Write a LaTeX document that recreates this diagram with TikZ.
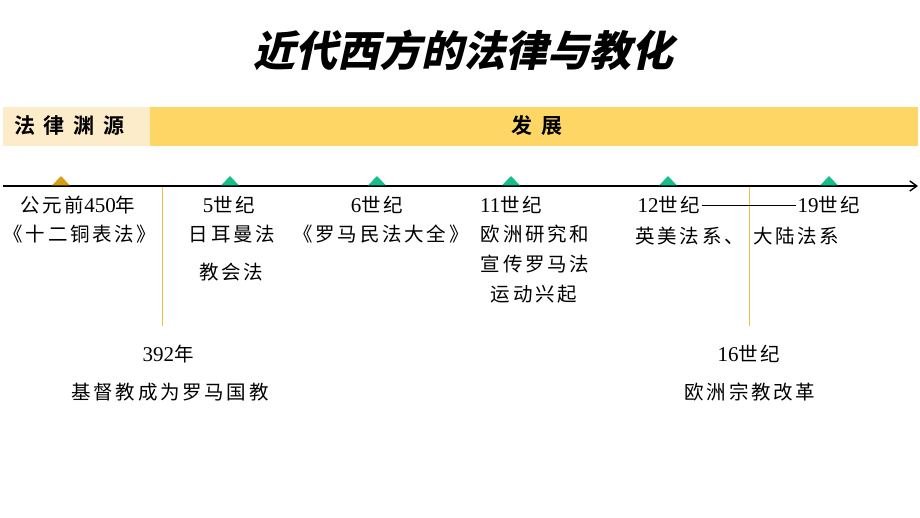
\documentclass[tikz,border=0pt]{standalone}
\usepackage{fontspec}
\setmainfont{Noto Sans CJK SC}
\newfontfamily\cjkbody[LetterSpace=14]{Noto Sans CJK SC}
\newfontfamily\nums{Liberation Serif}
\newfontfamily\cjkband[LetterSpace=42]{Noto Sans CJK SC Bold}
\newfontfamily\cjktitle[FakeSlant=0.22]{Noto Sans CJK SC Black}
\usetikzlibrary{arrows.meta}
\newcommand{\dg}[1]{{\nums\fontsize{21}{23}\selectfont #1}}
\definecolor{bandlight}{RGB}{253,236,202}
\definecolor{banddark}{RGB}{253,214,102}
\definecolor{triorange}{RGB}{214,158,20}
\definecolor{trigreen}{RGB}{22,190,140}
\definecolor{vline}{RGB}{240,192,70}
\tikzset{
  lbl/.style={inner sep=0pt, font=\cjkbody\fontsize{19.5}{22}\selectfont},
  bandtxt/.style={inner sep=0pt, font=\cjkband\fontsize{21}{23}\selectfont},
  tri/.style={fill=#1, draw=none},
  vl/.style={draw=vline, line width=1.2pt}
}
\begin{document}
\begin{tikzpicture}[x=1pt,y=-1pt]
\useasboundingbox (0,0) rectangle (920,518);
% title
\node[inner sep=0pt, font=\cjktitle\fontsize{42}{46}\selectfont] (title) at (463,50) {近代西方的法律与教化};
% bands
\fill[bandlight] (3,107) rectangle (150,146);
\fill[banddark] (150,107) rectangle (918,146);
\node[bandtxt, anchor=west] (src) at (14,126) {法律渊源};
\node[bandtxt] (dev) at (537,126) {发展};
% axis
\coordinate (a0) at (3,186);
\coordinate (a1) at (918,186);
% vertical lines
\coordinate (v1t) at (162.5,186); \coordinate (v1b) at (162.5,326);
\coordinate (v2t) at (749.5,186); \coordinate (v2b) at (749.5,326);
\draw[vl] (v1t) -- (v1b);
\draw[vl] (v2t) -- (v2b);
\draw[line width=1.4pt, -{Straight Barb[length=7pt,width=10pt]}] (a0) -- (a1);
% triangles
\foreach \x/\c in {61/triorange,230/trigreen,377/trigreen,511/trigreen,668/trigreen,829/trigreen}{
  \fill[tri=\c] (\x-9,185.5) -- (\x,176) -- (\x+9,185.5) -- cycle;
}
% labels
\node[lbl] (t1a) at (78,205) {公元前\dg{450}年};
\node[lbl] (t1b) at (80,234) {《十二铜表法》};
\node[lbl] (t2a) at (229,205) {\dg{5}世纪};
\node[lbl] (t2b) at (232,234) {日耳曼法};
\node[lbl] (t2c) at (231,272) {教会法};
\node[lbl] (t3a) at (377,205) {\dg{6}世纪};
\node[lbl] (t3b) at (381,234) {《罗马民法大全》};
\node[lbl] (t4a) at (511,205) {\dg{11}世纪};
\node[lbl] (t4b) at (535,234) {欧洲研究和};
\node[lbl] (t4c) at (535,264) {宣传罗马法};
\node[lbl] (t4d) at (534,294) {运动兴起};
\node[lbl] (t5a) at (669,205) {\dg{12}世纪};
\node[lbl] (t6a) at (829,205) {\dg{19}世纪};
\draw[line width=0.6pt] (t5a.east) ++(1pt,0) -- ([xshift=-1pt]t6a.west);
\node[lbl, anchor=east] (t5b) at (744,236) {英美法系、};
\node[lbl, anchor=west] (t6b) at (753,236) {大陆法系};
\node[lbl] (b1a) at (168,354) {\dg{392}年};
\node[lbl] (b1b) at (170,392) {基督教成为罗马国教};
\node[lbl] (b2a) at (749,354) {\dg{16}世纪};
\node[lbl] (b2b) at (750,392) {欧洲宗教改革};
\end{tikzpicture}
\end{document}
